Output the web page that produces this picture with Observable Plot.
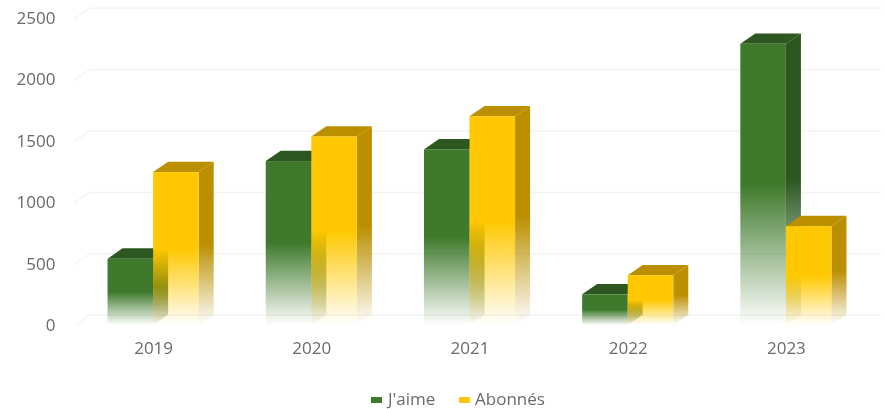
<!DOCTYPE html>
<html><head><meta charset="utf-8">
<script src="https://cdn.jsdelivr.net/npm/d3@7"></script>
<script src="https://cdn.jsdelivr.net/npm/@observablehq/plot@0.6"></script>
<style>
html,body{margin:0;padding:0;background:#fff;width:884px;height:409px;overflow:hidden}
#chart{position:absolute;left:0;top:0;filter:blur(.6px)}
#legend{position:absolute;left:0;top:380px;width:884px;height:29px;font:17px "Open Sans",sans-serif;color:#6a6a6a;filter:blur(.5px)}
#legend span{position:absolute;top:8px;line-height:22px;white-space:nowrap}
#legend i{position:absolute;top:17px;width:11px;height:6px;display:block}
</style></head><body>
<div id="chart"></div>
<div id="legend">
<i style="left:371px;background:#3f7a2c"></i><span style="left:388px">J'aime</span>
<i style="left:459px;background:#ffc800"></i><span style="left:475px">Abonnés</span>
</div>
<script>
const years = [2019, 2020, 2021, 2022, 2023];
const jaime = [540, 1335, 1430, 250, 2290];
const abonnes = [1245, 1535, 1700, 405, 805];
const yTicks = [0, 500, 1000, 1500, 2000, 2500];

const barW = 0.288, depthX = 0.095, depthY = 84;
const C = {
  j: {front: "#3f7a2c", dark: "#2c5720"},
  a: {front: "#ffc800", dark: "#bb8f00"}
};

function faces(vals, off) {
  const rows = years.map((yr, i) => ({x1: yr + off, x2: yr + off + barW, v: vals[i], yr}));
  const side = rows.flatMap(r => [
    {k: r.yr, x: r.x2, y1: 0, y2: r.v},
    {k: r.yr, x: r.x2 + depthX, y1: depthY, y2: r.v + depthY}
  ]);
  const top = rows.flatMap(r => [
    {k: r.yr, x: r.x1, y1: r.v, y2: r.v},
    {k: r.yr, x: r.x1 + depthX, y1: r.v, y2: r.v + depthY},
    {k: r.yr, x: r.x2, y1: r.v, y2: r.v + depthY},
    {k: r.yr, x: r.x2 + depthX, y1: r.v + depthY, y2: r.v + depthY}
  ]);
  return {rows, side, top};
}
function series(vals, off, key) {
  const f = faces(vals, off);
  return [
    Plot.areaY(f.side, {x: "x", y1: "y1", y2: "y2", z: "k", fill: `url(#side-${key})`, curve: "linear"}),
    Plot.areaY(f.top, {x: "x", y1: "y1", y2: "y2", z: "k", fill: C[key].dark, curve: "linear"}),
    Plot.rect(f.rows, {x1: "x1", x2: "x2", y1: 0, y2: "v", fill: `url(#front-${key})`})
  ];
}
function grad(id, color) {
  return `<linearGradient id="${id}" x1="0" y1="0" x2="0" y2="1">
    <stop offset="0" stop-color="${color}" stop-opacity="1"/>
    <stop offset="0.5" stop-color="${color}" stop-opacity="1"/>
    <stop offset="1" stop-color="${color}" stop-opacity="0"/>
  </linearGradient>`;
}
const defs = () => {
  const g = d3.create("svg:defs");
  g.html(grad("front-j", C.j.front) + grad("side-j", C.j.dark) + grad("front-a", C.a.front) + grad("side-a", C.a.dark));
  return g.node();
};
const x0 = 2018.5, x1 = 2023.5;
const plot = Plot.plot({
  width: 884, height: 380,
  marginLeft: 74, marginRight: 19, marginTop: 18, marginBottom: 55,
  style: {background: "#fff", fontFamily: "'Open Sans',sans-serif", fontSize: "17px", color: "#6a6a6a"},
  x: {domain: [x0, x1], range: [74, 865]},
  y: {domain: [0, 2500], range: [325, 18]},
  marks: [
    defs,
    Plot.link(yTicks, {x1: x0, x2: x0 + depthX, y1: d => d, y2: d => d + depthY, stroke: "#f5f5f5", strokeWidth: 1.5}),
    Plot.link(yTicks, {x1: x0 + depthX, x2: x1 + depthX, y1: d => d + depthY, y2: d => d + depthY, stroke: "#f3f3f3", strokeWidth: 1.5}),
    ...series(jaime, -barW, "j"),
    ...series(abonnes, 0, "a"),
    Plot.axisY({ticks: yTicks, tickSize: 0, tickPadding: 19, label: null, tickFormat: d => String(d), fill: "#6a6a6a"}),
    Plot.axisX({ticks: years, tickSize: 0, tickPadding: 16, label: null, tickFormat: d => String(d), fill: "#6a6a6a"})
  ]
});
document.getElementById("chart").append(plot);
</script>
</body></html>
